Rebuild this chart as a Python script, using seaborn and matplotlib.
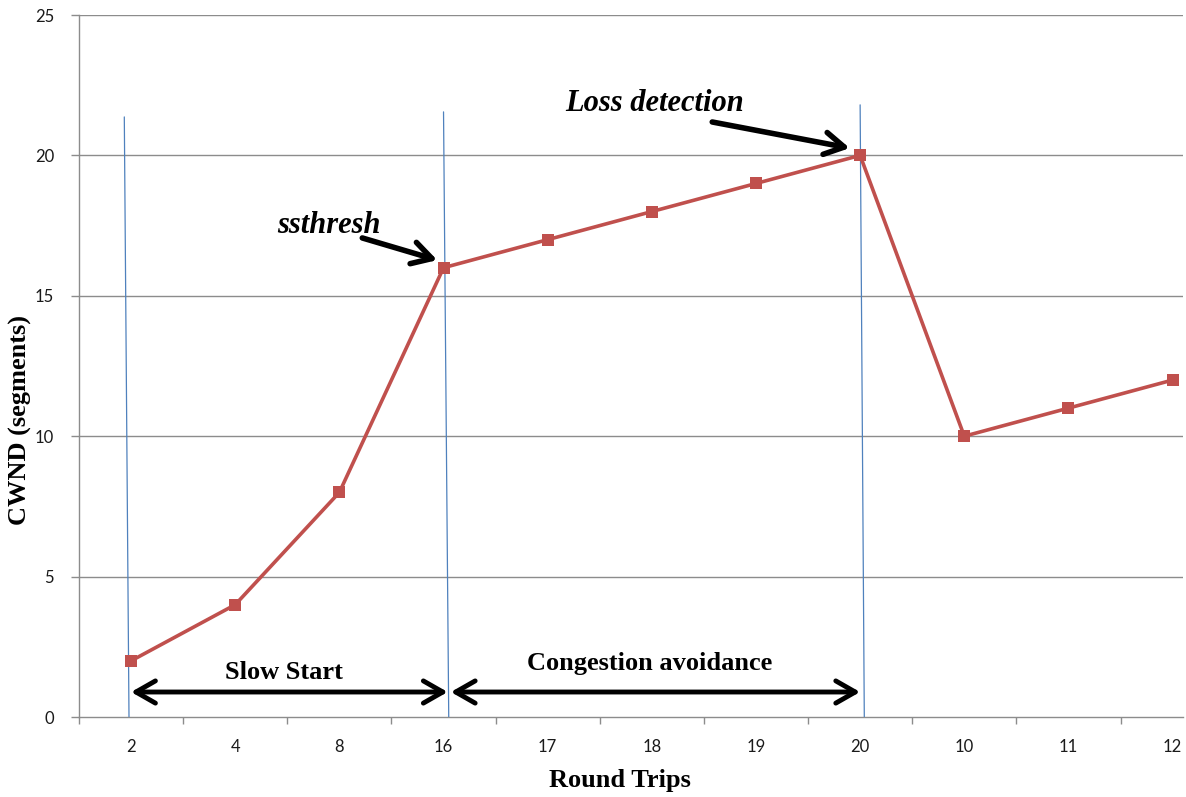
import matplotlib
matplotlib.use("Agg")
import matplotlib.pyplot as plt
import numpy as np
import pandas as pd
import seaborn as sns

# Congestion window per round trip (x labels are the window at each step)
round_labels = ["2", "4", "8", "16", "17", "18", "19", "20", "10", "11", "12"]
cwnd = [2, 4, 8, 16, 17, 18, 19, 20, 10, 11, 12]
y_ticks = [0, 5, 10, 15, 20, 25]

# Phase boundaries (category index) and their labels
ssthresh_idx = 3
loss_idx = 7

sns.set_theme(style="white")
plt.rcParams["font.family"] = ["DejaVu Sans"]

df = pd.DataFrame({"step": np.arange(len(cwnd)), "cwnd": cwnd})

fig = plt.figure(figsize=(11.86, 7.97), dpi=100)
ax = fig.add_axes([79 / 1186, 80 / 797, 1104 / 1186, 702 / 797])

grid_c = "#8c8c8c"
for v in y_ticks[1:]:
    ax.axhline(v, color=grid_c, lw=1.0, zorder=0)

sns.lineplot(data=df, x="step", y="cwnd", sort=False, color="#C0504D",
             lw=2.6, marker="s", markersize=9, markeredgewidth=0,
             ax=ax, zorder=4)

# Thin phase separators (hand-drawn, slightly leaning)
blue = "#4F81BD"
ax.plot([-0.065, -0.02], [21.37, 0], color=blue, lw=0.9, zorder=3)
ax.plot([ssthresh_idx, ssthresh_idx + 0.05], [21.55, 0], color=blue, lw=0.9, zorder=3)
ax.plot([loss_idx, loss_idx + 0.04], [21.8, 0], color=blue, lw=0.9, zorder=3)

# Category axis: tick marks on the boundaries, labels at centres
ax.set_xticks(np.arange(-0.5, len(cwnd), 1.0))
ax.set_xticklabels([])
ax.set_xticks(np.arange(len(cwnd)), minor=True)
ax.set_xticklabels(round_labels, minor=True)
ax.tick_params(axis="x", which="major", direction="out", length=5, width=1,
               color=grid_c, bottom=True)
ax.tick_params(axis="x", which="minor", length=0, pad=16)
ax.set_yticks(y_ticks)
ax.tick_params(axis="y", direction="out", length=6, width=1, color=grid_c,
               left=True, pad=12)
for lab in ax.get_xticklabels(minor=True) + ax.get_yticklabels():
    lab.set_fontfamily("Lato")
    lab.set_fontsize(12)
    lab.set_color("#1a1a1a")

ax.set_xlim(-0.5, 10.1)
ax.set_ylim(0, 25)

for s in ["top", "right"]:
    ax.spines[s].set_visible(False)
for s in ["left", "bottom"]:
    ax.spines[s].set_color(grid_c)
    ax.spines[s].set_linewidth(1.0)

serif_bold = dict(family="Liberation Serif", fontweight="bold", color="black")
ax.set_xlabel("Round Trips", fontsize=19, va="center", **serif_bold)
ax.xaxis.set_label_coords(0.49, -0.09)
ax.set_ylabel("CWND (segments)", fontsize=19, va="center", **serif_bold)
ax.yaxis.set_label_coords(-0.053, 0.423)

# Phase spans
arrow_kw = dict(arrowstyle="<->, head_length=0.7, head_width=0.4",
                color="black", lw=3.5, mutation_scale=20,
                shrinkA=0, shrinkB=0)
ax.annotate("", xy=(ssthresh_idx + 0.04, 0.89), xytext=(0.0, 0.89),
            arrowprops=arrow_kw, zorder=5)
ax.annotate("", xy=(loss_idx, 0.89), xytext=(ssthresh_idx + 0.07, 0.89),
            arrowprops=arrow_kw, zorder=5)
ax.text(1.47, 1.35, "Slow Start", ha="center", va="baseline", fontsize=19, **serif_bold)
ax.text(4.98, 1.67, "Congestion avoidance", ha="center", va="baseline", fontsize=19, **serif_bold)

# Event call-outs
call_kw = dict(arrowstyle="->, head_length=0.7, head_width=0.4",
               color="black", lw=4, mutation_scale=20, shrinkA=0, shrinkB=0)
serif_bi = dict(family="Liberation Serif", fontweight="bold", fontstyle="italic",
                color="black", fontsize=22)
ax.text(1.90, 17.24, "ssthresh", ha="center", va="baseline", **serif_bi)
ax.annotate("", xy=(2.94, 16.27), xytext=(2.22, 17.06), arrowprops=call_kw, zorder=5)
ax.text(5.03, 21.58, "Loss detection", ha="center", va="baseline", **serif_bi)
ax.annotate("", xy=(6.90, 20.26), xytext=(5.58, 21.19), arrowprops=call_kw, zorder=5)

fig.savefig("out.png", dpi=100)
